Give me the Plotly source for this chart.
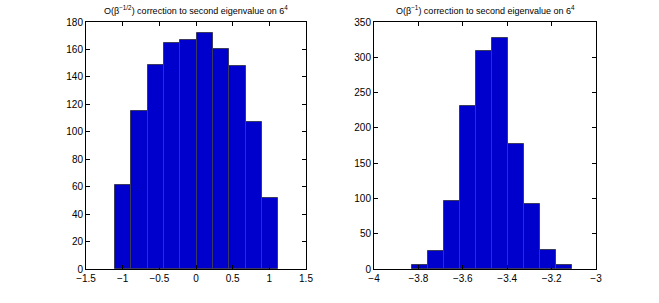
import numpy as np
import plotly.graph_objects as go

# Left histogram: O(beta^-1/2) correction
left_counts = [61, 115, 149, 165, 167, 172, 160, 148, 107, 52]
left_bin_start = -1.102
left_bin_width = 0.2222

# Right histogram: O(beta^-1) correction
right_counts = [5, 25, 96, 231, 309, 328, 177, 92, 27, 6]
right_bin_start = -3.827
right_bin_width = 0.0719

left_title = "O(β<sup>−1/2</sup>) correction to second eigenvalue on 6<sup>4</sup>"
right_title = "O(β<sup>−1</sup>) correction to second eigenvalue on 6<sup>4</sup>"

left_centers = left_bin_start + left_bin_width * (np.arange(len(left_counts)) + 0.5)
right_centers = right_bin_start + right_bin_width * (np.arange(len(right_counts)) + 0.5)

bar_color = "#0000CC"
edge_color = "#3a3a60"

fig = go.Figure()
fig.add_trace(go.Bar(x=left_centers, y=left_counts, width=left_bin_width,
                     marker=dict(color=bar_color, line=dict(color=edge_color, width=1)),
                     xaxis="x", yaxis="y", showlegend=False))
fig.add_trace(go.Bar(x=right_centers, y=right_counts, width=right_bin_width,
                     marker=dict(color=bar_color, line=dict(color=edge_color, width=1)),
                     xaxis="x2", yaxis="y2", showlegend=False))

W, H = 659, 303
ydom = [(H - 269) / H, (H - 22) / H]
ax_common = dict(showgrid=False, zeroline=False, showline=True, linecolor="#000",
                 linewidth=1, mirror="ticks", ticks="inside", ticklen=4,
                 tickcolor="#000", tickfont=dict(size=10, color="#000"),
                 automargin=False)

fig.update_layout(
    width=W, height=H,
    margin=dict(l=0, r=0, t=0, b=0),
    paper_bgcolor="white", plot_bgcolor="white",
    font=dict(family="Liberation Sans, Arial, sans-serif", size=10, color="#000"),
    bargap=0,
    xaxis=dict(domain=[86 / W, 306 / W], range=[-1.5, 1.5], dtick=0.5, tick0=0,
               anchor="y", **ax_common),
    yaxis=dict(domain=ydom, range=[0, 180], dtick=20, anchor="x", **ax_common),
    xaxis2=dict(domain=[374 / W, 596 / W], range=[-4, -3], dtick=0.2, tick0=-4,
                anchor="y2", **ax_common),
    yaxis2=dict(domain=ydom, range=[0, 350], dtick=50, anchor="x2", **ax_common),
    annotations=[
        dict(text=left_title, x=(86 + 306) / 2 / W, y=(H - 10) / H, xref="paper", yref="paper",
             showarrow=False, font=dict(size=9), xanchor="center", yanchor="middle"),
        dict(text=right_title, x=(374 + 596) / 2 / W, y=(H - 10) / H, xref="paper", yref="paper",
             showarrow=False, font=dict(size=9), xanchor="center", yanchor="middle"),
    ],
)

fig.write_html("out.html", config={"displayModeBar": False},
               post_script="document.body.style.margin='0';")
